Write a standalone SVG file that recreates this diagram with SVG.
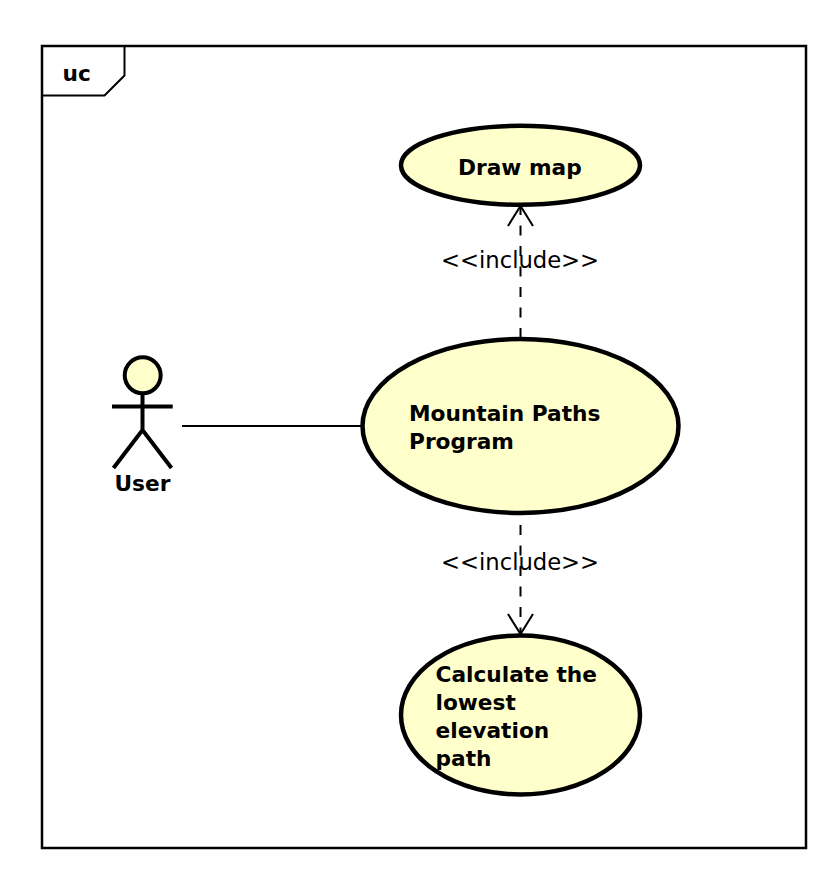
<svg xmlns="http://www.w3.org/2000/svg" width="838" height="886" viewBox="0 0 838 886">
<style>
.uc{fill:#ffffcc;stroke:#000;stroke-width:4.5}
.b{font-family:"DejaVu Sans","Liberation Sans",sans-serif;font-weight:bold;font-size:21.7px;fill:#000}
.l{font-family:"DejaVu Sans","Liberation Sans",sans-serif;font-size:22.7px;fill:#000}
.c{fill:none;stroke:#000;stroke-width:2}
.d{stroke-dasharray:10 10.500}
.a{fill:none;stroke:#000;stroke-width:4}
</style>
<rect width="838" height="886" fill="#fff"/>
<g id="frame">
<rect x="42" y="46" width="764" height="802" fill="#fff" stroke="#000" stroke-width="2.500"/>
<path d="M42 95.500H104.500L124.500 75.500V46" class="c"/>
<text x="62.500" y="80.500" class="b">uc</text>
</g>
<g id="connectors">
<path d="M182 426H362" class="c"/>
<path d="M520.500 338V207" class="c d"/>
<path d="M508 226L520.500 206L533 226" class="c"/>
<path d="M520.500 525V634" class="c d"/>
<path d="M508 614L520.500 634L533 614" class="c"/>
<text y="268" class="l"><tspan x="441">&lt;</tspan><tspan x="460">&lt;</tspan><tspan x="479">include</tspan><tspan x="561">&gt;</tspan><tspan x="580">&gt;</tspan></text>
<text y="570" class="l"><tspan x="441">&lt;</tspan><tspan x="460">&lt;</tspan><tspan x="479">include</tspan><tspan x="561">&gt;</tspan><tspan x="580">&gt;</tspan></text>
</g>
<g id="draw-map">
<ellipse cx="520.500" cy="165.300" rx="119.500" ry="39.500" class="uc"/>
<text x="458" y="174.500" class="b">Draw map</text>
</g>
<g id="user">
<circle cx="142.700" cy="375.300" r="18" fill="#ffffcc" stroke="#000" stroke-width="4"/>
<path d="M142.500 393V430M112 406.500H172.700M113.500 468L142.500 430L171.500 468" class="a"/>
<text x="114.500" y="490.500" class="b">User</text>
</g>
<g id="mountain-paths">
<ellipse cx="520.500" cy="426" rx="158" ry="87" class="uc"/>
<text x="409" y="420.500" class="b">Mountain Paths</text>
<text x="409" y="448.500" class="b">Program</text>
</g>
<g id="lowest-path">
<ellipse cx="520.500" cy="715" rx="119.500" ry="79.500" class="uc"/>
<text x="435.500" y="681.500" class="b">Calculate the</text>
<text x="435.500" y="709.500" class="b">lowest</text>
<text x="435.500" y="737.500" class="b">elevation</text>
<text x="435.500" y="765.500" class="b">path</text>
</g>
</svg>
